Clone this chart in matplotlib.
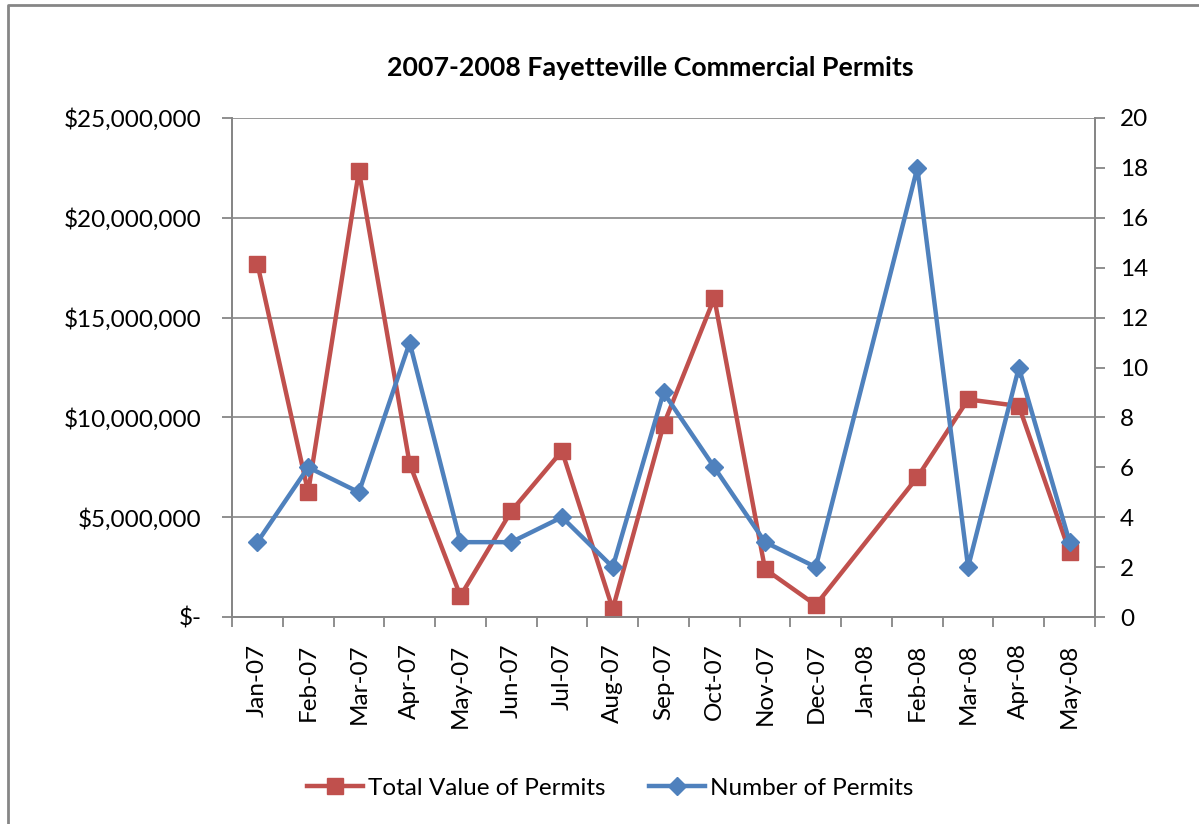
import numpy as np
import matplotlib.pyplot as plt
from matplotlib.ticker import FuncFormatter, MultipleLocator
from matplotlib.lines import Line2D

plt.rcParams['font.family'] = ['Lato', 'DejaVu Sans']

months = ["Jan-07", "Feb-07", "Mar-07", "Apr-07", "May-07", "Jun-07", "Jul-07",
          "Aug-07", "Sep-07", "Oct-07", "Nov-07", "Dec-07", "Jan-08", "Feb-08",
          "Mar-08", "Apr-08", "May-08"]
# Jan-08 has no data; the lines skip it
total_value = [17700000, 6250000, 22350000, 7670000, 1050000, 5300000, 8320000,
               400000, 9620000, 15980000, 2400000, 600000, np.nan, 7000000,
               10900000, 10570000, 3260000]
num_permits = [3, 6, 5, 11, 3, 3, 4, 2, 9, 6, 3, 2, np.nan, 18, 2, 10, 3]

red = '#C0504D'
blue = '#4F81BD'
grey = '#868686'
fs = 17.5

x = np.arange(len(months))
tv = np.array(total_value, dtype=float)
npm = np.array(num_permits, dtype=float)
ok = ~np.isnan(tv)

fig = plt.figure(figsize=(11.99, 8.24), dpi=100)
ax = fig.add_axes([232 / 1199, 1 - 617 / 824, (1095 - 232) / 1199, (617 - 118) / 824])
ax2 = ax.twinx()

ax.plot(x[ok], tv[ok], color=red, lw=3.2, marker='s', markersize=12, zorder=3)
ax2.plot(x[ok], npm[ok], color=blue, lw=3.2, marker='D', markersize=9, zorder=3)

ax.set_xlim(-0.5, len(months) - 0.5)
ax.set_ylim(0, 25000000)
ax2.set_ylim(0, 20)
ax.yaxis.set_major_locator(MultipleLocator(5000000))
ax2.yaxis.set_major_locator(MultipleLocator(2))


def money(v, pos):
    if v == 0:
        return "$-"
    return "${:,.0f}".format(v)


ax.yaxis.set_major_formatter(FuncFormatter(money))
ax.grid(axis='y', color=grey, lw=1.2)
ax.set_axisbelow(True)

ax.set_xticks(x)
ax.set_xticklabels(months, rotation=90)
ax.set_xticks(np.arange(-0.5, len(months), 1), minor=True)
ax.tick_params(axis='x', which='major', length=0, pad=19, labelsize=fs)
ax.tick_params(axis='x', which='minor', length=7, width=1.3, color=grey)
ax.tick_params(axis='y', length=7, width=1.3, color=grey, labelsize=fs, pad=15)
ax2.tick_params(axis='y', length=7, width=1.3, color=grey, labelsize=fs, pad=11)

for a in (ax, ax2):
    a.spines['top'].set_visible(False)
    for s in ('left', 'right', 'bottom'):
        a.spines[s].set_color(grey)
        a.spines[s].set_linewidth(1.3)

fig.text(650 / 1199, 1 - 68 / 824, "2007-2008 Fayetteville Commercial Permits",
         ha='center', va='center', fontsize=19.3, fontweight='bold')

handles = [Line2D([], [], color=red, lw=3.2, marker='s', markersize=12),
           Line2D([], [], color=blue, lw=3.2, marker='D', markersize=9)]
fig.legend(handles, ["Total Value of Permits", "Number of Permits"],
           loc='center', bbox_to_anchor=(610 / 1199, 1 - 788 / 824), ncol=2,
           frameon=False, fontsize=fs, handlelength=2.3, handletextpad=0.2,
           columnspacing=1.8)

# outer chart border
fig.add_artist(Line2D([8 / 1199, 8 / 1199, 1], [0, 1 - 5 / 824, 1 - 5 / 824],
                      transform=fig.transFigure, color=grey, lw=2))

fig.savefig("out.png", dpi=100)
